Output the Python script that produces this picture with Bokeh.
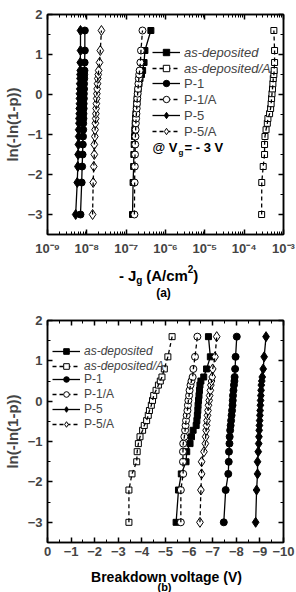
from bokeh.plotting import figure
from bokeh.layouts import column
from bokeh.models import (Legend, LegendItem, Label, LinearAxis, LogAxis, Range1d,
                          SingleIntervalTicker, LogTicker, CustomJSTickFormatter)
from bokeh.core.properties import value
from bokeh.embed import file_html
from bokeh.resources import INLINE

# ---------------- data ----------------
weibull_y = [-3.0, -2.2, -1.8, -1.5, -1.25, -1.05, -0.88, -0.72, -0.6, -0.48, -0.35,
             -0.23, -0.1, 0.02, 0.14, 0.27, 0.4, 0.5, 0.6, 0.8, 1.1, 1.6]

series_names = ["as-deposited", "as-deposited/A", "P-1", "P-1/A", "P-5", "P-5/A"]

# (a) leakage current density -Jg (A/cm^2) at Vg = -3 V
jg_asdep = [1.45e-7, 1.5e-7, 1.55e-7, 1.57e-7, 1.6e-7, 1.63e-7, 1.66e-7, 1.7e-7, 1.73e-7, 1.77e-7,
            1.82e-7, 1.86e-7, 1.9e-7, 1.95e-7, 2.02e-7, 2.12e-7, 2.25e-7, 2.45e-7, 2.62e-7, 2.85e-7,
            3.0e-7, 4.25e-7]
jg_asdepA = [2.78e-4, 2.8e-4, 3.05e-4, 3.3e-4, 3.3e-4, 3.38e-4, 3.6e-4, 3.88e-4, 4.02e-4, 4.43e-4,
             4.7e-4, 4.85e-4, 4.98e-4, 5.1e-4, 5.25e-4, 5.37e-4, 5.5e-4, 5.69e-4, 5.8e-4, 5.93e-4,
             5.93e-4, 5.69e-4]
jg_p1 = [6.9e-9, 7.4e-9, 7.6e-9, 7.8e-9, 7.9e-9, 8.0e-9, 8.1e-9, 8.1e-9, 8.2e-9, 8.2e-9, 8.3e-9,
         8.3e-9, 8.4e-9, 8.4e-9, 8.5e-9, 8.5e-9, 8.6e-9, 8.6e-9, 8.7e-9, 8.8e-9, 8.9e-9, 8.9e-9]
jg_p1A = [1.62e-7, 1.64e-7, 1.66e-7, 1.68e-7, 1.7e-7, 1.72e-7, 1.74e-7, 1.76e-7, 1.79e-7, 1.82e-7,
          1.85e-7, 1.88e-7, 1.92e-7, 1.96e-7, 2.0e-7, 2.05e-7, 2.1e-7, 2.15e-7, 2.2e-7, 2.3e-7,
          2.38e-7, 2.6e-7]
jg_p5 = [5.2e-9, 5.7e-9, 5.9e-9, 6.0e-9, 6.1e-9, 6.2e-9, 6.2e-9, 6.3e-9, 6.3e-9, 6.4e-9, 6.4e-9,
         6.5e-9, 6.5e-9, 6.5e-9, 6.6e-9, 6.6e-9, 6.7e-9, 6.7e-9, 6.8e-9, 6.8e-9, 6.9e-9, 6.9e-9]
jg_p5A = [1.4e-8, 1.45e-8, 1.5e-8, 1.55e-8, 1.55e-8, 1.6e-8, 1.62e-8, 1.65e-8, 1.68e-8, 1.7e-8,
          1.72e-8, 1.75e-8, 1.78e-8, 1.8e-8, 1.83e-8, 1.87e-8, 1.9e-8, 1.95e-8, 2.0e-8, 2.1e-8,
          2.2e-8, 2.35e-8]

# (b) breakdown voltage (V)
bv_asdep = [-5.45, -5.55, -5.67, -5.87, -5.9, -6.04, -6.1, -6.17, -6.3, -6.33, -6.35, -6.37,
            -6.38, -6.4, -6.42, -6.44, -6.46, -6.5, -6.62, -6.74, -6.9, -6.82]
bv_asdepA = [-3.45, -3.45, -3.58, -3.78, -3.8, -3.85, -3.92, -4.03, -4.1, -4.2, -4.27, -4.32,
             -4.4, -4.45, -4.5, -4.6, -4.7, -4.78, -4.85, -4.95, -5.1, -5.28]
bv_p1 = [-7.47, -7.55, -7.66, -7.68, -7.69, -7.71, -7.72, -7.74, -7.76, -7.78, -7.8, -7.82,
         -7.84, -7.85, -7.86, -7.88, -7.9, -7.92, -7.93, -7.95, -7.97, -8.02]
bv_p1A = [-5.65, -5.65, -5.75, -5.74, -5.74, -5.75, -5.8, -5.83, -5.85, -5.87, -5.9, -5.93,
          -5.95, -5.97, -6.0, -6.02, -6.06, -6.1, -6.15, -6.18, -6.25, -6.35]
bv_p5 = [-8.82, -8.86, -8.9, -8.9, -8.93, -8.95, -8.96, -8.97, -8.98, -8.99, -9.0, -9.01,
         -9.02, -9.03, -9.04, -9.05, -9.06, -9.08, -9.1, -9.14, -9.18, -9.26]
bv_p5A = [-6.46, -6.5, -6.53, -6.53, -6.63, -6.69, -6.7, -6.72, -6.74, -6.76, -6.78, -6.8,
          -6.82, -6.85, -6.87, -6.9, -6.92, -6.95, -6.98, -7.0, -7.1, -7.17]

# caption texts
cap_a_main = ["- J", "(A/cm", ")"]
cap_a_small = ["g", "2"]
cap_a_tag = "(a)"
cap_b_title = "Breakdown voltage (V)"
cap_b_tag = "(b)"

# ---------------- styles ----------------
FONT = "Liberation Sans"
styles = {
    "as-deposited":   dict(marker="square",  fill="black", dash="solid", size=6),
    "as-deposited/A": dict(marker="square",  fill="white", dash="4 3",   size=6),
    "P-1":            dict(marker="circle",  fill="black", dash="solid", size=7),
    "P-1/A":          dict(marker="circle",  fill="white", dash="4 3",   size=7),
    "P-5":            dict(marker="diamond", fill="black", dash="solid", size=10),
    "P-5/A":          dict(marker="diamond", fill="white", dash="4 3",   size=10),
}

sup_fmt = CustomJSTickFormatter(code="""
const s = {'-':'\u207b','0':'\u2070','1':'\u00b9','2':'\u00b2','3':'\u00b3','4':'\u2074',
           '5':'\u2075','6':'\u2076','7':'\u2077','8':'\u2078','9':'\u2079'};
const e = Math.round(Math.log10(tick));
return '10' + String(e).split('').map(c => s[c]).join('');
""")


def blank():
    return CustomJSTickFormatter(code="return '';")


def style_axis(ax):
    ax.major_tick_in = 5
    ax.major_tick_out = 0
    ax.minor_tick_in = 3
    ax.minor_tick_out = 0
    ax.axis_line_width = 1.5
    ax.major_tick_line_width = 1.5
    ax.minor_tick_line_width = 1
    ax.major_label_text_font = FONT
    ax.major_label_text_font_style = "bold"
    ax.major_label_text_font_size = "13px"
    ax.axis_label_text_font = FONT
    ax.axis_label_text_font_style = "bold"
    ax.axis_label_text_font_size = "15px"


def add_series(p, xs, name):
    st = styles[name]
    sc = p.scatter(xs, weibull_y, marker=st["marker"], size=st["size"],
                   fill_color=st["fill"], line_color="black", line_width=1)
    ln = p.line(xs, weibull_y, line_color="black", line_width=1.3, line_dash=st["dash"])
    return LegendItem(label=name, renderers=[ln, sc])


def make_legends(p, items, loc_it, loc_nm, fsize, gh, sp):
    for its, loc, fs in ((items[:2], loc_it, "italic"), (items[2:], loc_nm, "normal")):
        lg = Legend(items=its, location=loc, glyph_width=28, glyph_height=gh,
                    label_height=gh, label_standoff=4, spacing=sp, padding=0, margin=0,
                    background_fill_alpha=0, border_line_alpha=0,
                    label_text_font=FONT, label_text_font_size=fsize,
                    label_text_font_style=fs)
        p.add_layout(lg, "center")


def txt(p, x, y, t, size, style="bold"):
    p.add_layout(Label(x=x, y=y, x_units="screen", y_units="screen", text=t,
                       text_font=FONT, text_font_size=size, text_font_style=style,
                       text_baseline="middle", text_align="left", text_color="black"))


def framed(p):
    p.grid.visible = False
    p.outline_line_color = "black"
    p.outline_line_width = 1.5


def caption_fig(y_top, y_bot):
    # the column layout aligns this frame with the plots above (x 45..283)
    c = figure(width=296, height=y_bot - y_top, x_range=Range1d(45, 283),
               y_range=Range1d(y_bot, y_top), output_backend="svg", toolbar_location=None,
               min_border=0, min_border_left=45, min_border_right=13,
               x_axis_location=None, y_axis_location=None)
    c.grid.visible = False
    c.outline_line_color = None
    return c


def ctext(c, xs, ys, texts, size, align="left"):
    c.text(x=xs, y=ys, text=texts, text_font=value(FONT), text_font_size=value(size),
           text_font_style="bold", text_baseline="middle", text_align=align,
           text_color="black")


# ---------------- (a) ----------------
p1 = figure(width=296, height=262, x_axis_type="log",
            x_range=Range1d(1e-9, 1e-3), y_range=Range1d(-3.5, 2),
            output_backend="svg", toolbar_location=None,
            min_border_left=45, min_border_right=13, min_border_top=14, min_border_bottom=28)
framed(p1)
p1.xaxis.ticker = LogTicker(desired_num_ticks=7, num_minor_ticks=10)
p1.xaxis.formatter = sup_fmt
p1.xaxis.major_label_standoff = 6
p1.yaxis.ticker = SingleIntervalTicker(interval=1, num_minor_ticks=2)
p1.yaxis.axis_label = "ln(-ln(1-p))"
p1.yaxis.major_label_standoff = 5
p1.yaxis.axis_label_standoff = 4
style_axis(p1.xaxis[0])
style_axis(p1.yaxis[0])
top1 = LogAxis(ticker=LogTicker(desired_num_ticks=7, num_minor_ticks=10), formatter=blank())
right1 = LinearAxis(ticker=SingleIntervalTicker(interval=1, num_minor_ticks=2), formatter=blank())
for ax in (top1, right1):
    style_axis(ax)
    ax.major_label_text_font_size = "0px"
p1.add_layout(top1, "above")
p1.add_layout(right1, "right")

items1 = [add_series(p1, xs, n) for xs, n in
          ((jg_asdep, "as-deposited"), (jg_asdepA, "as-deposited/A"), (jg_p1, "P-1"),
           (jg_p1A, "P-1/A"), (jg_p5, "P-5"), (jg_p5A, "P-5/A"))]
make_legends(p1, items1, (105, 158), (105, 95), "13px", 16, 0)

# "@ Vg = - 3 V"
txt(p1, 105, 87, "@ V", "13px")
txt(p1, 131, 82, "g", "8px")
txt(p1, 137, 87, "= - 3 V", "13px")

cap1 = caption_fig(262, 300)
ctext(cap1, [117, 144.5, 192], [275, 275, 275], cap_a_main, "15px")
ctext(cap1, [134.5, 186.5], [280, 268], cap_a_small, "10px")
ctext(cap1, [162], [292], [cap_a_tag], "12px", align="center")

# ---------------- (b) ----------------
p2 = figure(width=296, height=267,
            x_range=Range1d(0, -10), y_range=Range1d(-3.5, 2),
            output_backend="svg", toolbar_location=None,
            min_border_left=45, min_border_right=13, min_border_top=20, min_border_bottom=25)
framed(p2)
p2.xaxis.ticker = SingleIntervalTicker(interval=1, num_minor_ticks=2)
p2.xaxis.major_label_standoff = 4
p2.yaxis.ticker = SingleIntervalTicker(interval=1, num_minor_ticks=2)
p2.yaxis.axis_label = "ln(-ln(1-p))"
p2.yaxis.major_label_standoff = 5
p2.yaxis.axis_label_standoff = 4
style_axis(p2.xaxis[0])
style_axis(p2.yaxis[0])
top2 = LinearAxis(ticker=SingleIntervalTicker(interval=1, num_minor_ticks=2), formatter=blank())
right2 = LinearAxis(ticker=SingleIntervalTicker(interval=1, num_minor_ticks=2), formatter=blank())
for ax in (top2, right2):
    style_axis(ax)
    ax.major_label_text_font_size = "0px"
p2.add_layout(top2, "above")
p2.add_layout(right2, "right")

items2 = [add_series(p2, xs, n) for xs, n in
          ((bv_asdep, "as-deposited"), (bv_asdepA, "as-deposited/A"), (bv_p1, "P-1"),
           (bv_p1A, "P-1/A"), (bv_p5, "P-5"), (bv_p5A, "P-5/A"))]
make_legends(p2, items2, (5, 169), (5, 111), "12px", 14, 1)

cap2 = caption_fig(567, 592)
ctext(cap2, [165], [576], [cap_b_title], "14px", align="center")
ctext(cap2, [163], [586.5], [cap_b_tag], "11px", align="center")

layout = column(p1, cap1, p2, cap2, spacing=0)
open("out.html", "w").write(file_html(layout, INLINE))
